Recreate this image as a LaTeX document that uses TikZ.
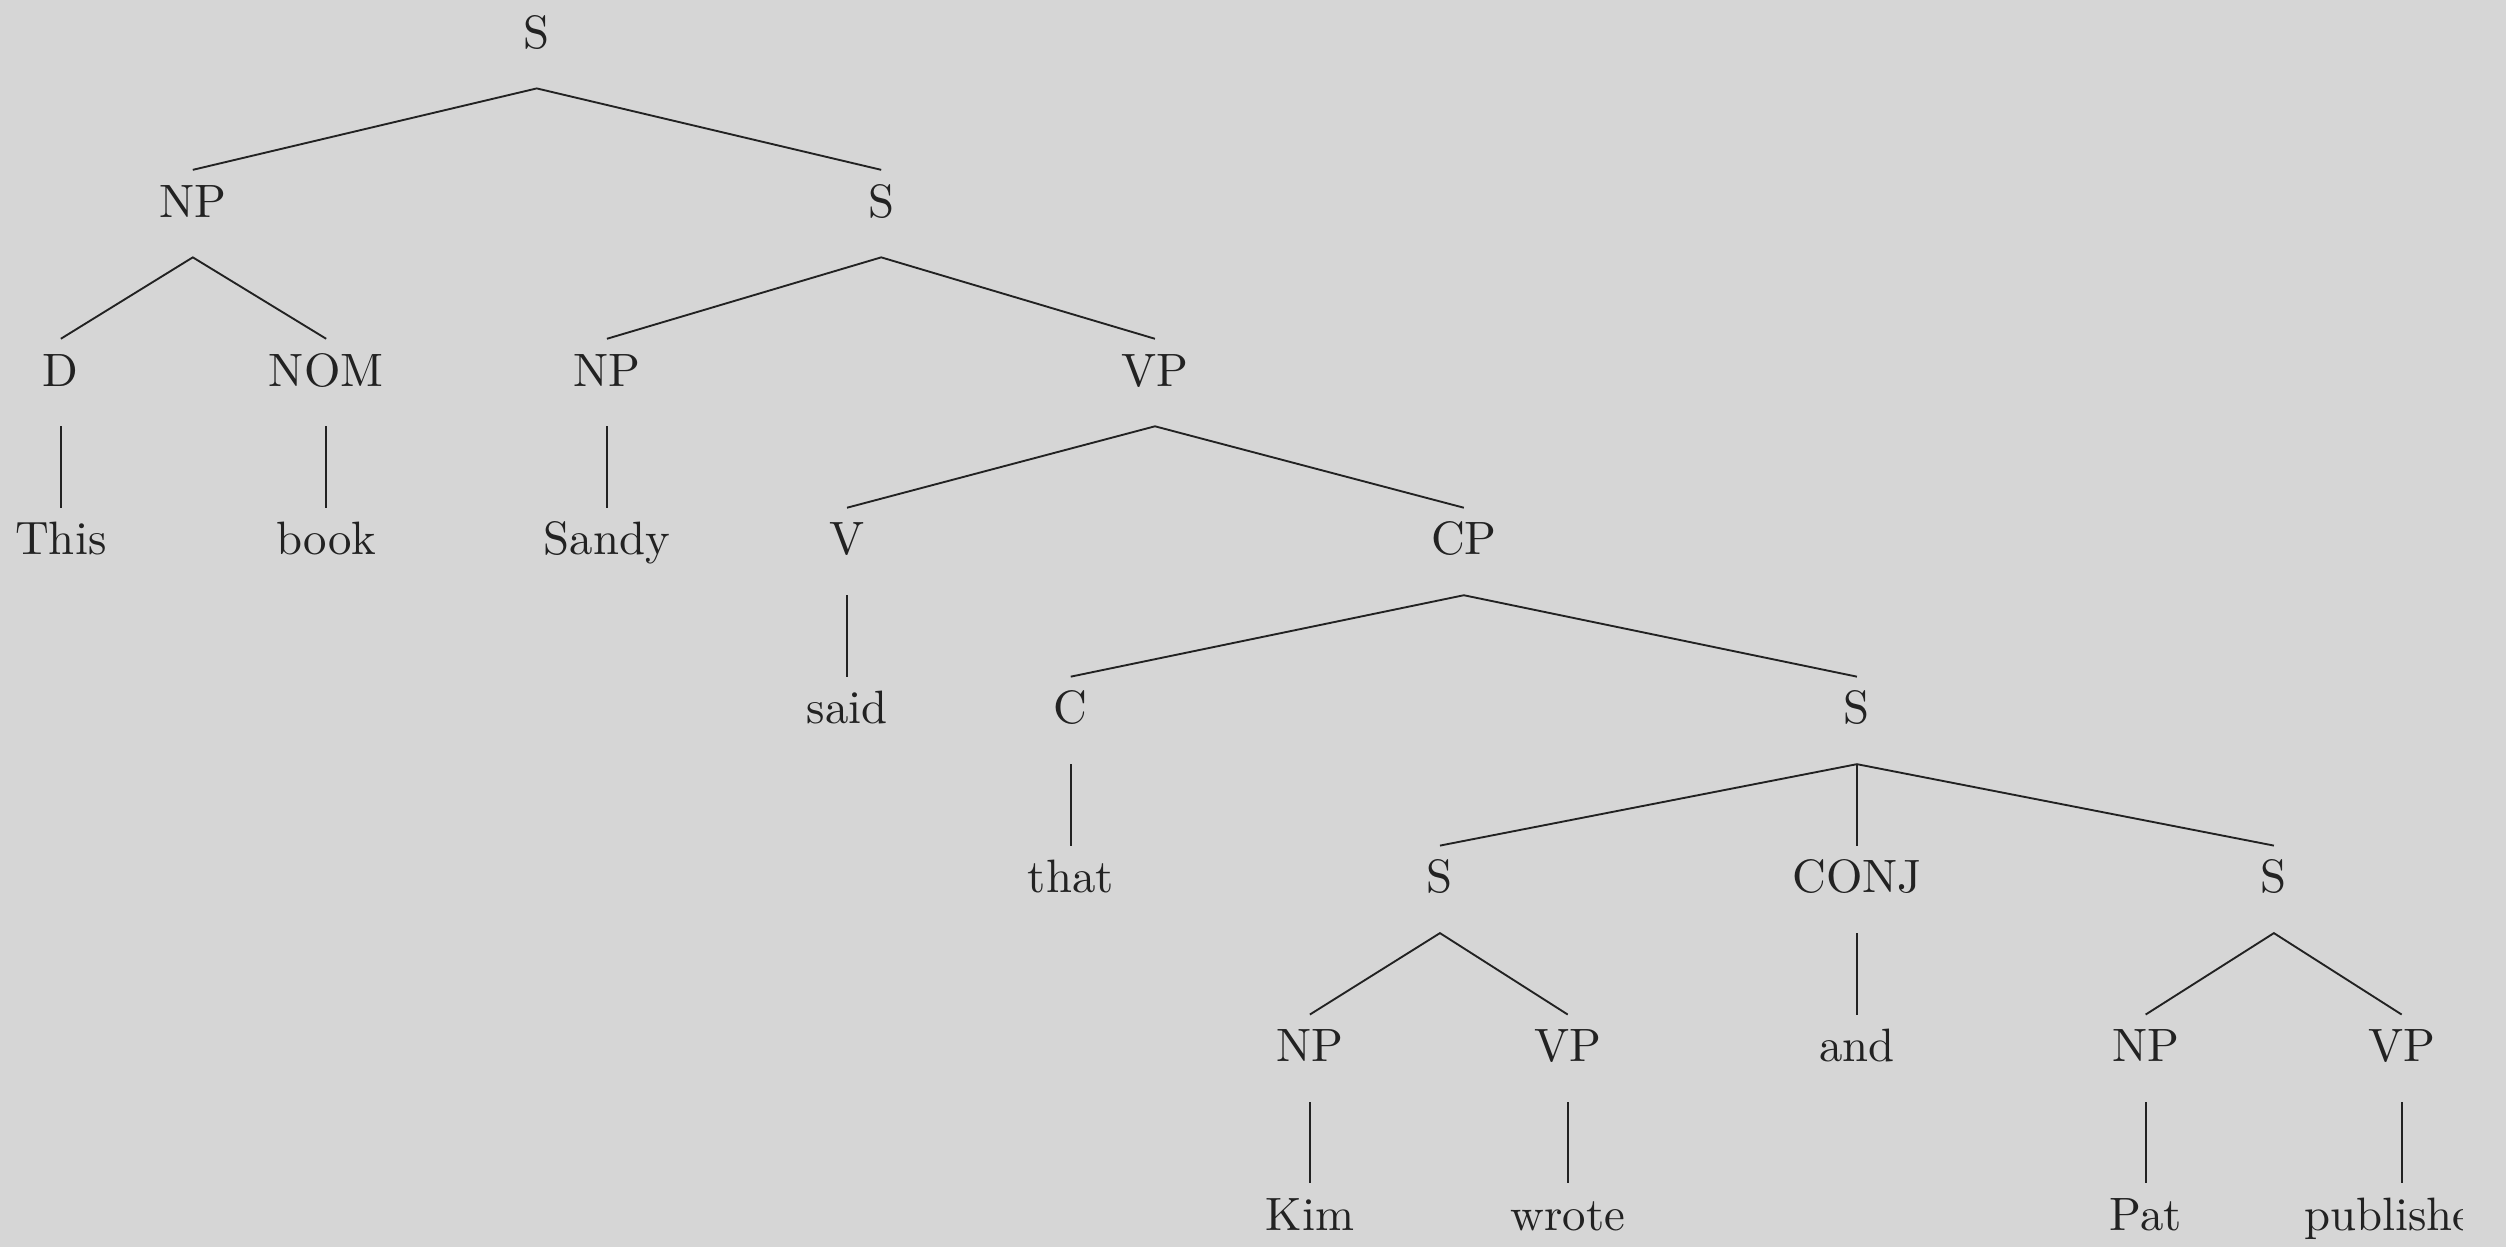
\documentclass[tikz,border=0pt]{standalone}
\usepackage{tikz}
\definecolor{paper}{HTML}{D6D6D6}
\definecolor{ink}{HTML}{222222}

\begin{document}
\begin{tikzpicture}[x=1pt,y=1pt,
  cat/.style={anchor=base,inner sep=0pt,text height=9.9pt,text depth=8.4pt,text=ink},
  branch/.style={draw=ink,line width=0.4pt}]
\useasboundingbox[fill=paper] (0,0) rectangle (535.5,266.5);
\clip (0,0) rectangle (526.3,266.5);

\node[cat] (s0) at (114.7,256.2) {S};

\node[cat] (np1) at (41.2,220.1) {NP};
\node[cat] (s1) at (188.3,220.1) {S};

\node[cat] (d) at (13.0,184.0) {D};
\node[cat] (nom) at (69.7,184.0) {NOM};
\node[cat] (np2) at (129.7,184.0) {NP};
\node[cat] (vp1) at (246.8,184.0) {VP};

\node[cat] (this) at (13.0,147.9) {This};
\node[cat] (book) at (69.7,147.9) {book};
\node[cat] (sandy) at (129.7,147.9) {Sandy};
\node[cat] (v) at (181.0,147.9) {V};
\node[cat] (cp) at (312.8,147.9) {CP};

\node[cat] (said) at (181.0,111.8) {said};
\node[cat] (c) at (228.8,111.8) {C};
\node[cat] (s2) at (396.8,111.8) {S};

\node[cat] (that) at (228.8,75.7) {that};
\node[cat] (s3) at (307.7,75.7) {S};
\node[cat] (conj) at (396.8,75.7) {CONJ};
\node[cat] (s4) at (485.9,75.7) {S};

\node[cat] (np3) at (279.9,39.6) {NP};
\node[cat] (vp2) at (335.0,39.6) {VP};
\node[cat] (and) at (396.8,39.6) {and};
\node[cat] (np4) at (458.5,39.6) {NP};
\node[cat] (vp3) at (513.2,39.6) {VP};

\node[cat] (kim) at (279.9,3.5) {Kim};
\node[cat] (wrote) at (335.0,3.5) {wrote};
\node[cat] (pat) at (458.5,3.5) {Pat};
\node[cat] (published) at (513.2,3.5) {published};

% branches
\draw[branch] (np1.north) -- (s0.south) -- (s1.north);
\draw[branch] (d.north) -- (np1.south) -- (nom.north);
\draw[branch] (np2.north) -- (s1.south) -- (vp1.north);
\draw[branch] (d.south) -- (this.north);
\draw[branch] (nom.south) -- (book.north);
\draw[branch] (np2.south) -- (sandy.north);
\draw[branch] (v.north) -- (vp1.south) -- (cp.north);
\draw[branch] (v.south) -- (said.north);
\draw[branch] (c.north) -- (cp.south) -- (s2.north);
\draw[branch] (c.south) -- (that.north);
\draw[branch] (s3.north) -- (s2.south) -- (s4.north);
\draw[branch] (s2.south) -- (conj.north);
\draw[branch] (np3.north) -- (s3.south) -- (vp2.north);
\draw[branch] (conj.south) -- (and.north);
\draw[branch] (np4.north) -- (s4.south) -- (vp3.north);
\draw[branch] (np3.south) -- (kim.north);
\draw[branch] (vp2.south) -- (wrote.north);
\draw[branch] (np4.south) -- (pat.north);
\draw[branch] (vp3.south) -- (published.north);
\end{tikzpicture}
\end{document}
